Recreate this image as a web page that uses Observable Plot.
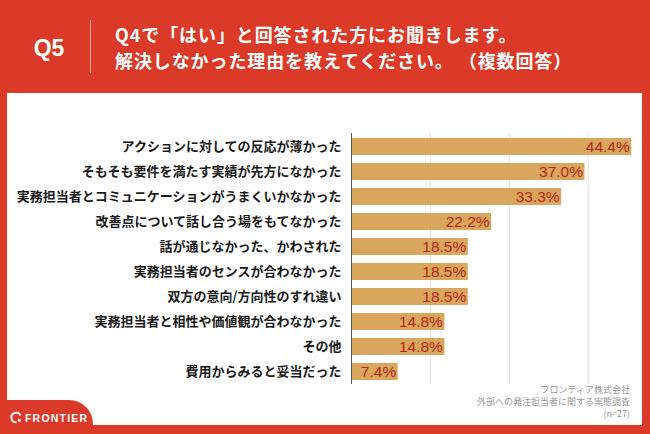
<!DOCTYPE html>
<html>
<head>
<meta charset="utf-8">
<script src="https://cdn.jsdelivr.net/npm/d3@7"></script>
<script src="https://cdn.jsdelivr.net/npm/@observablehq/plot@0.6"></script>
<style>
  html, body { margin: 0; padding: 0; }
  body { width: 650px; height: 434px; background: #da3a27; position: relative; overflow: hidden;
         font-family: "Noto Sans CJK JP", "Noto Sans", sans-serif; }
  #q { position: absolute; left: 0; width: 98px; top: 33px; text-align: center; color: #fff;
       font-family: "Liberation Sans", Arial, sans-serif; font-weight: bold; font-size: 23px; line-height: 30px; }
  #divider { position: absolute; left: 90px; top: 20px; width: 1px; height: 53px; background: rgba(255,255,255,0.55); }
  #title { position: absolute; left: 115px; top: 21px; color: #fff; font-weight: bold; font-size: 18px;
           line-height: 26px; letter-spacing: 0.9px; white-space: nowrap; }
  #panel { position: absolute; left: 7px; top: 93px; width: 635px; height: 332px; background: #fff; }
  #chart { position: absolute; left: 0; top: 0; }
  #caption { position: absolute; right: 12px; top: 291px; text-align: right; color: #9a9a9a; font-size: 9px; line-height: 12px; }
  #tab { position: absolute; left: 0; top: 400px; width: 93px; height: 34px; background: #da3a27; border-top-right-radius: 24px; }
  #logo { position: absolute; left: 10px; top: 411px; color: #fff; font-family: "Liberation Sans", Arial, sans-serif;
          font-weight: bold; font-size: 10.5px; letter-spacing: 1.2px; display: flex; align-items: center; gap: 2px; }
</style>
</head>
<body>
<div id="q">Q5</div>
<div id="divider"></div>
<div id="title">Q4で「はい」と回答された方にお聞きします。<br>解決しなかった理由を教えてください。 （複数回答）</div>
<div id="panel">
  <div id="chart"></div>
  <div id="caption">フロンティア株式会社<br>外部への発注担当者に関する実態調査<br>(n=27)</div>
</div>
<div id="tab"></div>
<div id="logo"><svg width="13" height="13" viewBox="0 0 13 13"><path d="M10.5 4.5 A4.8 4.8 0 1 0 6.5 11.3" fill="none" stroke="#fff" stroke-width="1.8"/><circle cx="9.3" cy="9.3" r="1.5" fill="#fff"/></svg><span>FRONTIER</span></div>
<script>
const categories = [
  "アクションに対しての反応が薄かった",
  "そもそも要件を満たす実績が先方になかった",
  "実務担当者とコミュニケーションがうまくいかなかった",
  "改善点について話し合う場をもてなかった",
  "話が通じなかった、かわされた",
  "実務担当者のセンスが合わなかった",
  "双方の意向/方向性のすれ違い",
  "実務担当者と相性や価値観が合わなかった",
  "その他",
  "費用からみると妥当だった"
];
const values = [44.4, 37.0, 33.3, 22.2, 18.5, 18.5, 18.5, 14.8, 14.8, 7.4];
const gridTicks = [12.5, 25, 37.5];

const data = categories.map((c, i) => ({ category: c, value: values[i] }));

const chart = Plot.plot({
  width: 635,
  height: 332,
  marginTop: 40,
  marginBottom: 41,
  marginLeft: 344,
  marginRight: 7,
  style: { fontFamily: '"Noto Sans CJK JP", sans-serif', background: "transparent" },
  x: { domain: [0, 45], axis: null },
  y: { domain: categories, paddingInner: 0.32, paddingOuter: 0.16, label: null },
  marks: [
    Plot.ruleX(gridTicks, { stroke: "#dedede", strokeWidth: 1 }),
    Plot.barX(data, { x: "value", y: "category", fill: "#d8a65c" }),
    Plot.ruleX([0], { stroke: "#555", strokeWidth: 1 }),
    Plot.text(data, { x: "value", y: "category", text: d => d.value.toFixed(1) + "%", textAnchor: "end", dx: -2,
      fill: "#b5261a", fontSize: 15.5, fontFamily: '"Liberation Sans", Arial, sans-serif' }),
    Plot.axisY({ tickSize: 0, tickPadding: 10, fontSize: 13, fontWeight: "bold", color: "#1a1a1a", label: null })
  ]
});
document.getElementById("chart").appendChild(chart);
</script>
</body>
</html>
